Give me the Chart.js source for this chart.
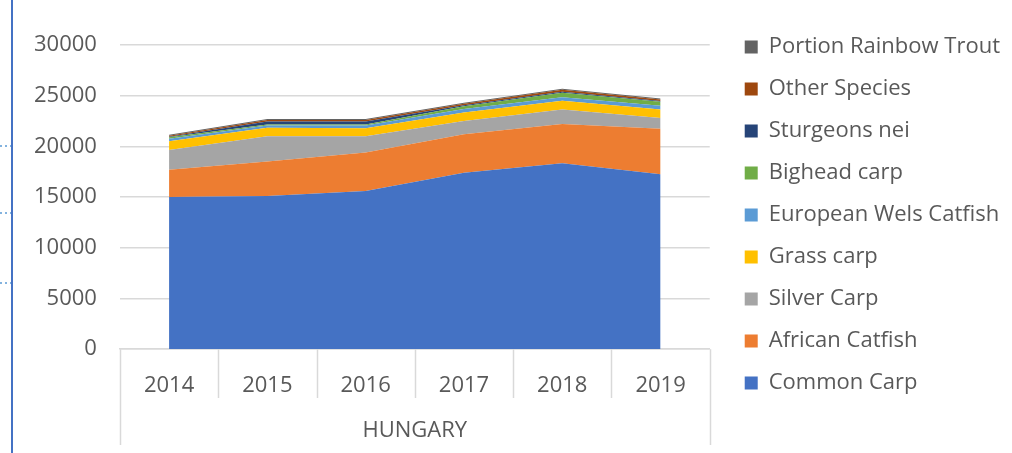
<!DOCTYPE html>
<html>
<head>
<meta charset="utf-8">
<script src="https://cdn.jsdelivr.net/npm/chart.js@4/dist/chart.umd.min.js"></script>
<style>
  html, body { margin: 0; padding: 0; background: #fff; }
  #wrap { width: 1012px; height: 453px; }
</style>
</head>
<body>
<div id="wrap"><canvas id="myChart" width="1012" height="453"></canvas></div>
<script>
var years = ['2014', '2015', '2016', '2017', '2018', '2019'];
var groupLabel = 'HUNGARY';

var commonCarp     = [15000, 15100, 15600, 17400, 18350, 17250];
var africanCatfish = [2700, 3400, 3800, 3800, 3850, 4500];
var silverCarp     = [1950, 2500, 1600, 1300, 1450, 1050];
var grassCarp      = [850, 850, 800, 850, 850, 850];
var welsCatfish    = [250, 200, 250, 350, 350, 350];
var bigheadCarp    = [150, 100, 100, 250, 450, 400];
var sturgeons      = [50, 300, 300, 100, 80, 80];
var otherSpecies   = [100, 150, 150, 150, 200, 150];
var rainbowTrout   = [100, 100, 100, 100, 100, 100];

var yTicks = [0, 5000, 10000, 15000, 20000, 25000, 30000];

var series = [
  ['Common Carp', commonCarp, '#4472C4'],
  ['African Catfish', africanCatfish, '#ED7D31'],
  ['Silver Carp', silverCarp, '#A5A5A5'],
  ['Grass carp', grassCarp, '#FFC000'],
  ['European Wels Catfish', welsCatfish, '#5B9BD5'],
  ['Bighead carp', bigheadCarp, '#70AD47'],
  ['Sturgeons nei', sturgeons, '#264478'],
  ['Other Species', otherSpecies, '#9E480E'],
  ['Portion Rainbow Trout', rainbowTrout, '#636363']
];

var FONT = "'Open Sans', sans-serif";
var TXT = '#595959';

function generateGraph() {
  var datasets = [];
  for (var i = 0; i < series.length; i++) {
    datasets.push({
      label: series[i][0],
      data: series[i][1],
      backgroundColor: series[i][2],
      borderColor: series[i][2],
      borderWidth: 0,
      pointRadius: 0,
      fill: i === 0 ? 'origin' : '-1',
      tension: 0
    });
  }

  // slide decoration, legend nudge and category dividers below the axis
  var extras = {
    id: 'extras',
    afterLayout: function(chart) {
      var lg = chart.legend;
      lg.left += 15;
      lg.right = 1012;
      lg.top = 16;
    },
    beforeDraw: function(chart) {
      var ctx = chart.ctx;
      ctx.save();
      ctx.strokeStyle = '#4472C4';
      ctx.lineWidth = 2;
      ctx.beginPath();
      ctx.moveTo(12, 0);
      ctx.lineTo(12, 453);
      ctx.stroke();
      ctx.strokeStyle = '#5B9BD5';
      ctx.lineWidth = 1.5;
      ctx.setLineDash([2, 3]);
      [146, 213, 283].forEach(function(y) {
        ctx.beginPath();
        ctx.moveTo(0, y);
        ctx.lineTo(11, y);
        ctx.stroke();
      });
      ctx.restore();
    },
    afterDraw: function(chart) {
      var ctx = chart.ctx;
      var xs = chart.scales.x;
      var top = chart.chartArea.bottom;
      ctx.save();
      ctx.strokeStyle = '#D9D9D9';
      ctx.lineWidth = 1.5;
      for (var i = 0; i <= years.length; i++) {
        var x = Math.round(xs.getPixelForValue(i - 0.5)) + 0.5;
        var end = (i === 0 || i === years.length) ? 445 : 398;
        ctx.beginPath();
        ctx.moveTo(x, top);
        ctx.lineTo(x, end);
        ctx.stroke();
      }
      ctx.restore();
    }
  };

  var ctx = document.getElementById('myChart').getContext('2d');
  var myChart = new Chart(ctx, {
    type: 'line',
    data: { labels: years, datasets: datasets },
    plugins: [extras],
    options: {
      responsive: false,
      animation: false,
      layout: { padding: { left: 11, right: 17, top: 45, bottom: 5 } },
      plugins: {
        tooltip: { enabled: false },
        legend: {
          position: 'right',
          align: 'start',
          reverse: true,
          maxWidth: 320,
          labels: {
            boxWidth: 13,
            boxHeight: 13,
            padding: 20,
            color: TXT,
            font: { family: FONT, size: 22 }
          }
        }
      },
      scales: {
        x: {
          offset: true,
          grid: { display: false, offset: true },
          border: { display: true, color: '#D9D9D9', width: 1.5 },
          ticks: { color: TXT, padding: 15, font: { family: FONT, size: 22 } },
          title: {
            display: true,
            text: groupLabel,
            color: TXT,
            padding: { top: 4, bottom: 4 },
            font: { family: FONT, size: 22 }
          }
        },
        y: {
          stacked: true,
          min: 0,
          max: 30000,
          afterBuildTicks: function(scale) {
            scale.ticks = yTicks.map(function(v) { return { value: v }; });
          },
          grid: { color: '#D9D9D9', lineWidth: 1.5, drawTicks: false },
          border: { display: false },
          ticks: {
            color: TXT,
            padding: 23,
            font: { family: FONT, size: 22 },
            callback: function(v) { return String(v); }
          }
        }
      }
    }
  });
}

generateGraph();
</script>
</body>
</html>
